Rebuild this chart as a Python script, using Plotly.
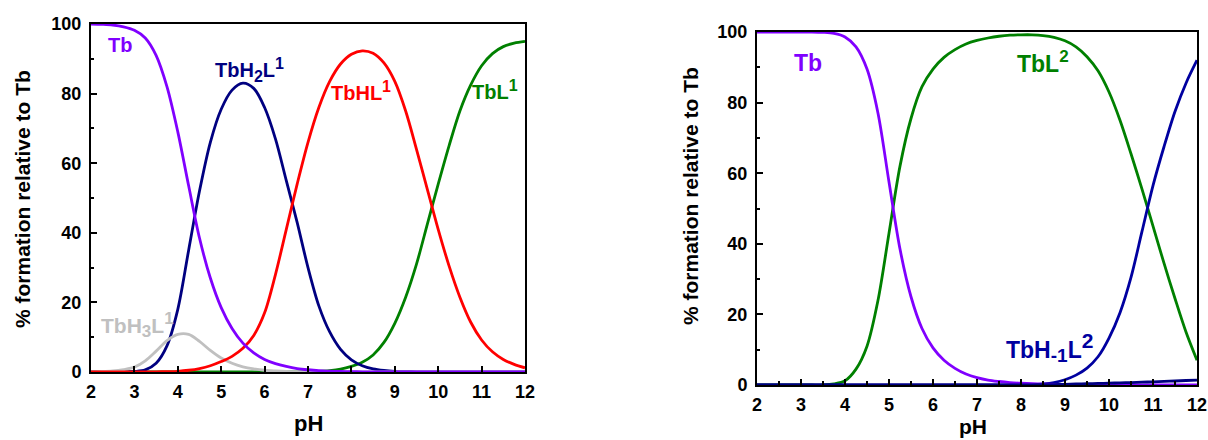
import plotly.graph_objects as go

# pH grid shared by both speciation diagrams
ph = [2.0, 2.25, 2.5, 2.75, 3.0, 3.25, 3.5, 3.75, 4.0, 4.25, 4.5, 4.75,
      5.0, 5.25, 5.5, 5.75, 6.0, 6.25, 6.5, 6.75, 7.0, 7.25, 7.5, 7.75,
      8.0, 8.25, 8.5, 8.75, 9.0, 9.25, 9.5, 9.75, 10.0, 10.25, 10.5, 10.75,
      11.0, 11.25, 11.5, 11.75, 12.0]

# Ligand 1 system (% formation relative to Tb)
l1_tb = [100, 99.9, 99.7, 99.2, 98.2, 96.0, 91.0, 82.0, 69.0, 53.5, 38.5, 27.0,
         18.5, 12.5, 8.3, 5.5, 3.6, 2.4, 1.6, 1.0, 0.65, 0.4, 0.25, 0.15,
         0.1, 0.05, 0.03, 0.02, 0.01, 0, 0, 0, 0, 0, 0, 0,
         0, 0, 0, 0, 0]
l1_tbh3l = [0.1, 0.15, 0.3, 0.7, 1.4, 3.2, 6.0, 9.0, 10.8, 10.8, 8.8, 6.2,
            4.0, 2.5, 1.5, 0.9, 0.5, 0.3, 0.15, 0.08, 0.05, 0.02, 0, 0,
            0, 0, 0, 0, 0, 0, 0, 0, 0, 0, 0, 0,
            0, 0, 0, 0, 0]
l1_tbh2l = [0, 0, 0, 0.03, 0.15, 0.6, 2.5, 7.5, 18, 35, 52, 66,
            75.5, 81, 83, 81.5, 76, 67, 55, 43, 30, 19, 11.5, 6.5,
            3.5, 1.8, 0.9, 0.45, 0.2, 0.1, 0.05, 0.02, 0, 0, 0, 0,
            0, 0, 0, 0, 0]
l1_tbhl = [0, 0, 0, 0, 0, 0, 0.05, 0.1, 0.2, 0.5, 1.0, 1.8,
           3.0, 4.5, 6.8, 10.5, 17, 28, 41, 54, 66, 76, 83.5, 88.5,
           91.3, 92.3, 91.6, 88.8, 83.5, 75.0, 64.0, 52.5, 41.0, 30.5, 21.5, 14.3,
           9.2, 5.8, 3.6, 2.2, 1.2]
l1_tbl = [0, 0, 0, 0, 0, 0, 0, 0, 0, 0, 0, 0,
          0, 0, 0, 0, 0, 0, 0.02, 0.05, 0.1, 0.2, 0.4, 0.8,
          1.6, 2.8, 4.9, 8.5, 14, 21.5, 31, 42.5, 54, 65, 75, 82.5,
          88, 91.5, 93.5, 94.5, 95]

# Ligand 2 system
l2_tb = [100, 100, 100, 100, 100, 100, 99.9, 99.6, 98.6, 95.8, 89.5, 77.0,
         57.5, 38.5, 25.0, 16.0, 10.5, 7.0, 4.7, 3.1, 2.1, 1.4, 1.0, 0.7,
         0.5, 0.35, 0.25, 0.2, 0.15, 0.12, 0.1, 0.08, 0.06, 0.05, 0.04, 0.03,
         0.02, 0.02, 0.01, 0.01, 0.01]
l2_tbl = [0, 0, 0, 0, 0, 0, 0, 0.3, 1.2, 4.5, 11, 24,
          43, 62, 75.5, 84.5, 89.5, 92.8, 95, 96.6, 97.6, 98.3, 98.8, 99.1,
          99.2, 99.2, 99.0, 98.5, 97.5, 95.8, 93.0, 89.0, 83.0, 75.0, 65.5, 55.5,
          45.0, 34.5, 24.5, 15.0, 7.0]
l2_tbhm1l = [0, 0, 0, 0, 0, 0, 0, 0, 0, 0, 0, 0,
             0, 0, 0, 0, 0, 0, 0, 0, 0, 0, 0, 0.02,
             0.05, 0.1, 0.3, 0.7, 1.5, 2.8, 4.8, 8.0, 13.3, 20.5, 30.5, 43.5,
             56.5, 67.5, 77.5, 85.5, 92]
l2_minor = [0, 0, 0, 0, 0, 0, 0, 0, 0, 0, 0, 0,
            0, 0, 0, 0, 0, 0, 0, 0, 0, 0, 0, 0,
            0.02, 0.05, 0.08, 0.12, 0.2, 0.28, 0.36, 0.44, 0.52, 0.6, 0.7, 0.8,
            0.9, 1.02, 1.14, 1.27, 1.4]

PURPLE = "#8000FF"
NAVY = "#000080"
BLUE2 = "#0000A0"
RED = "#FF0000"
GREEN = "#008000"
GRAY = "#C0C0C0"
FONT = "Liberation Sans"

W, H = 1208, 440

fig = go.Figure()


def add_curve(x, y, color, axis):
    fig.add_trace(go.Scatter(
        x=x, y=y, mode="lines", xaxis="x" + axis, yaxis="y" + axis,
        line=dict(color=color, width=2.8, shape="spline", smoothing=0.9),
        hoverinfo="skip", showlegend=False, cliponaxis=True))


# left panel
add_curve(ph, l1_tbl, GREEN, "")
add_curve(ph, l1_tbh2l, NAVY, "")
add_curve(ph, l1_tbh3l, GRAY, "")
add_curve(ph, l1_tbhl, RED, "")
add_curve(ph, l1_tb, PURPLE, "")

# right panel
add_curve(ph, l2_tbl, GREEN, "2")
add_curve(ph, l2_tbhm1l, BLUE2, "2")
add_curve(ph, l2_tb, PURPLE, "2")
add_curve(ph, l2_minor, NAVY, "2")


def px_x(p):
    return p / W


def px_y(p):
    return 1 - p / H


tickfont = dict(family=FONT, size=18, color="black", weight="bold")


def xaxis(domain, minor):
    ax = dict(domain=domain, range=[2, 12], dtick=1, tick0=2,
              showline=True, linecolor="black", linewidth=2, mirror=True,
              ticks="inside", ticklen=6, tickwidth=2, tickcolor="black",
              tickfont=tickfont, showgrid=False, zeroline=False,
              ticklabelstandoff=2, automargin=False, fixedrange=True)
    if minor:
        ax["minor"] = dict(ticks="inside", ticklen=4, tickwidth=2,
                           tickcolor="black", dtick=0.5, showgrid=False)
    return ax


def yaxis(domain, anchor):
    return dict(domain=domain, range=[0, 100], dtick=20, tick0=0,
                anchor=anchor,
                showline=True, linecolor="black", linewidth=2, mirror=True,
                ticks="inside", ticklen=6, tickwidth=2, tickcolor="black",
                minor=dict(ticks="inside", ticklen=3, tickwidth=2,
                           tickcolor="black", dtick=10, showgrid=False),
                tickfont=tickfont, showgrid=False, zeroline=False,
                ticklabelstandoff=4, automargin=False, fixedrange=True)


ann = []


def sup(t, size):
    return '<sup><span style="font-size:%dpx">%s</span></sup>' % (size, t)


def sub(t, size):
    return '<sub><span style="font-size:%dpx">%s</span></sub>' % (size, t)


def label(x, y, text, color, size, axis=""):
    ann.append(dict(x=x, y=y, xref="x" + axis, yref="y" + axis, text=text,
                    showarrow=False, xanchor="center", yanchor="middle",
                    font=dict(family=FONT, size=size, color=color,
                              weight="bold")))


def title(x, y, text, size, angle=0):
    ann.append(dict(x=px_x(x), y=px_y(y), xref="paper", yref="paper",
                    text=text, showarrow=False, textangle=angle,
                    xanchor="center", yanchor="middle",
                    font=dict(family=FONT, size=size, color="black",
                              weight="bold")))


# species labels, left panel
label(2.67, 94, "Tb", PURPLE, 20)
label(5.66, 86.8, "TbH" + sub("2", 16) + "L" + sup("1", 16), NAVY, 20)
label(8.22, 80.7, "TbHL" + sup("1", 16), RED, 20)
label(11.31, 81, "TbL" + sup("1", 16), GREEN, 20)
label(3.08, 13.5, "TbH" + sub("3", 17) + "L" + sup("1", 17), GRAY, 21)

# species labels, right panel
label(3.16, 91.2, "Tb", PURPLE, 23, "2")
label(8.5, 91.5, "TbL" + sup("2", 17), GREEN, 23, "2")
label(8.64, 10.5, "TbH" + sub("-1", 19) + "L" + sup("2", 21), BLUE2, 23, "2")

# axis titles
title(22, 199, "% formation relative to Tb", 21, -90)
title(308, 423, "pH", 22)
title(690, 196, "% formation relative to Tb", 21, -90)
title(973, 426, "pH", 21)

fig.update_layout(
    width=W, height=H, autosize=False,
    margin=dict(l=0, r=0, t=0, b=0, pad=0, autoexpand=False),
    paper_bgcolor="white", plot_bgcolor="white",
    xaxis=xaxis([px_x(91), px_x(525)], False),
    yaxis=yaxis([px_y(372), px_y(24)], "x"),
    xaxis2=xaxis([px_x(757), px_x(1197)], True) | dict(anchor="y2"),
    yaxis2=yaxis([px_y(385), px_y(32)], "x2"),
    annotations=ann,
    showlegend=False,
)

fig.write_html("out.html")
